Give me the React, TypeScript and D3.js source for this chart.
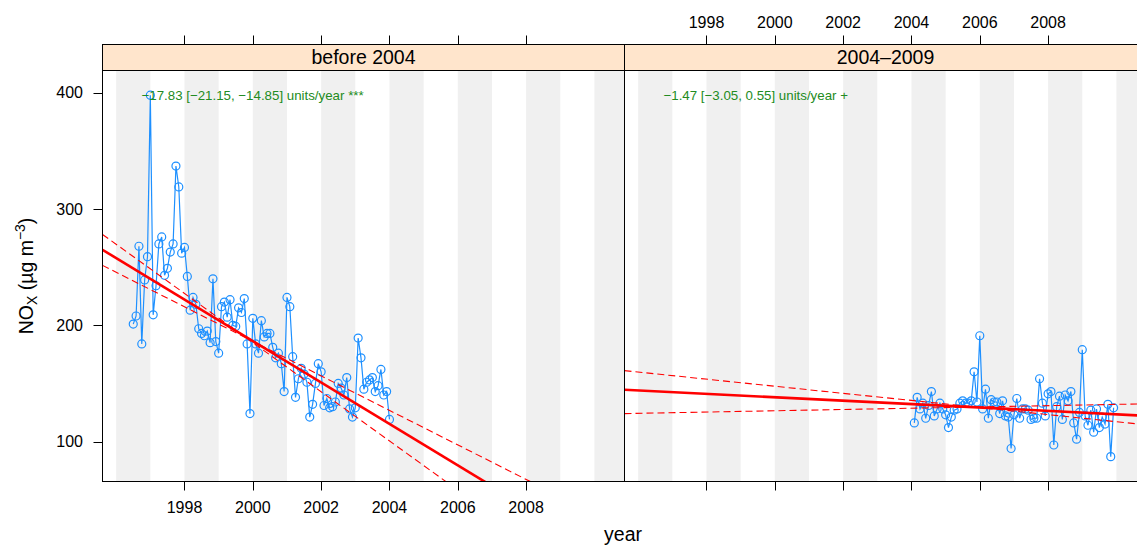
import React from 'react';
import * as d3 from 'd3';

// panels
const panelNames = ['before 2004', '2004\u20132009'];

// monthly means, first month of each panel
const beforeStart = { year: 1996, month: 7 };
const afterStart = { year: 2004, month: 2 };

const beforeNOx = [
  201, 208, 268, 184, 239, 259, 398, 209, 234, 270,
  276, 243, 249, 263, 270, 337, 319, 262, 267, 242,
  213, 224, 218, 197, 193, 191, 195, 185, 240, 186,
  176, 216, 220, 207, 222, 200, 199, 215, 211, 223,
  184, 124, 206, 184, 176, 204, 190, 193, 193, 181,
  172, 176, 167, 143, 224, 216, 173, 138, 154, 163,
  158, 151, 121, 132, 150, 167, 160, 131, 137, 129,
  130, 134, 150, 146, 140, 155, 128, 121, 129, 189,
  172, 145, 151, 153, 155, 143, 148, 162, 140, 143,
  119,
];

const afterNOx = [
  116, 138, 128, 133, 120, 131, 143, 122, 128, 133,
  128, 123, 112, 121, 127, 128, 133, 135, 133, 133,
  135, 160, 134, 191, 128, 145, 120, 136, 134, 134,
  124, 135, 122, 121, 94, 123, 137, 120, 128, 128,
  127, 119, 120, 120, 154, 133, 122, 141, 143, 97,
  130, 139, 119, 140, 135, 143, 116, 102, 125, 179,
  122, 114, 127, 108, 128, 112, 121, 115, 132, 87,
  129,
];

// Theil-Sen trend per panel (slope, CI, level at a reference year)
const slopes = [-17.83, -1.47];
const slopeLower = [-21.15, -3.05];
const slopeUpper = [-14.85, 0.55];
const refYear = [2000, 2007];
const trendAtRef = [186.5, 127.8];
const lowerAtRef = [185.1, 126.2];
const upperAtRef = [186.2, 130.3];
const trendLabels = [
  '\u221217.83 [\u221221.15, \u221214.85] units/year ***',
  '\u22121.47 [\u22123.05, 0.55] units/year +',
];

const yearTicks = [1998, 2000, 2002, 2004, 2006, 2008];
const yTicks = [100, 200, 300, 400];

const W = 1137;
const H = 545;
const left0 = 102.5;
const panelW = 522;
const stripTop = 44.5;
const top = 70.5;
const bottom = 481.5;
const font = '"Liberation Sans", Arial, Helvetica, sans-serif';

const toSeries = (start: { year: number; month: number }, vals: number[]) =>
  vals.map((v, i) => ({ t: start.year + (start.month - 1 + i) / 12, v }));

const series = [toSeries(beforeStart, beforeNOx), toSeries(afterStart, afterNOx)];

const y = d3.scaleLinear().domain([65.6, 419.2]).range([bottom, top]);

const bandYears = d3.range(1995, 2011);

const Panel = ({ k }: { k: number }) => {
  const x0 = left0 + k * panelW;
  const x = d3.scaleLinear().domain([1995.6, 2010.88]).range([x0, x0 + panelW]);
  const [d0, d1] = x.domain();
  const line = d3.line<{ t: number; v: number }>().x(d => x(d.t)).y(d => y(d.v));
  const trend = (level: number, slope: number) =>
    line([
      { t: d0, v: level + slope * (d0 - refYear[k]) },
      { t: d1, v: level + slope * (d1 - refYear[k]) },
    ]) || '';
  const clipId = `clip${k}`;
  return (
    <g>
      <defs>
        <clipPath id={clipId}>
          <rect x={x0} y={top} width={panelW} height={bottom - top} />
        </clipPath>
      </defs>
      <g clipPath={`url(#${clipId})`}>
        {bandYears.filter(yr => yr % 2 === 0).map(yr => (
          <rect key={yr} x={x(yr)} y={top} width={x(yr + 1) - x(yr)} height={bottom - top} fill="#f0f0f0" />
        ))}
        <path d={line(series[k]) || ''} fill="none" stroke="#1E90FF" strokeWidth={1.2} />
        {series[k].map((d, i) => (
          <circle key={i} cx={x(d.t)} cy={y(d.v)} r={4} fill="none" stroke="#1E90FF" strokeWidth={1.2} />
        ))}
        <path d={trend(lowerAtRef[k], slopeLower[k])} stroke="#ff0000" strokeWidth={1.1} strokeDasharray="7,4" fill="none" />
        <path d={trend(upperAtRef[k], slopeUpper[k])} stroke="#ff0000" strokeWidth={1.1} strokeDasharray="7,4" fill="none" />
        <path d={trend(trendAtRef[k], slopes[k])} stroke="#ff0000" strokeWidth={2.6} fill="none" />
        <text x={x0 + 39} y={100} fontSize={13.3} fill="#228B22" fontFamily={font}>
          {trendLabels[k]}
        </text>
      </g>
      <rect x={x0} y={stripTop} width={panelW} height={top - stripTop} fill="#FFE5CC" stroke="#000" strokeWidth={1} />
      <text x={x0 + panelW / 2} y={64} textAnchor="middle" fontSize={19.5} fontFamily={font} fill="#000">
        {panelNames[k]}
      </text>
      <rect x={x0} y={top} width={panelW} height={bottom - top} fill="none" stroke="#000" strokeWidth={1} />
      {yearTicks.map(t => (
        <g key={t}>
          <line x1={Math.round(x(t)) + 0.5} x2={Math.round(x(t)) + 0.5} y1={stripTop - 9} y2={stripTop} stroke="#000" />
          <line x1={Math.round(x(t)) + 0.5} x2={Math.round(x(t)) + 0.5} y1={bottom} y2={bottom + 9} stroke="#000" />
          {k === 0 ? (
            <text x={x(t)} y={513} textAnchor="middle" fontSize={16} fontFamily={font}>{t}</text>
          ) : (
            <text x={x(t)} y={28} textAnchor="middle" fontSize={16} fontFamily={font}>{t}</text>
          )}
        </g>
      ))}
    </g>
  );
};

export default function App() {
  return (
    <svg width={W} height={H} style={{ position: 'absolute', left: 0, top: 0, background: '#fff' }}>
      <rect x={0} y={0} width={W} height={H} fill="#fff" />
      <Panel k={0} />
      <Panel k={1} />
      {yTicks.map(v => (
        <g key={v}>
          <line x1={left0 - 9} x2={left0} y1={Math.round(y(v)) + 0.5} y2={Math.round(y(v)) + 0.5} stroke="#000" />
          <text x={83} y={y(v)} dy="0.35em" textAnchor="end" fontSize={16} fontFamily={font}>{v}</text>
        </g>
      ))}
      <text transform={`translate(33,${(top + bottom) / 2}) rotate(-90)`} textAnchor="middle" fontSize={19.5} fontFamily={font}>
        NO<tspan fontSize={14} dy={4}>X</tspan>
        <tspan dy={-4}> (µg m</tspan>
        <tspan fontSize={14} dy={-8}>{'\u22123'}</tspan>
        <tspan dy={8}>)</tspan>
      </text>
      <text x={623} y={541} textAnchor="middle" fontSize={19.5} fontFamily={font}>year</text>
    </svg>
  );
}
